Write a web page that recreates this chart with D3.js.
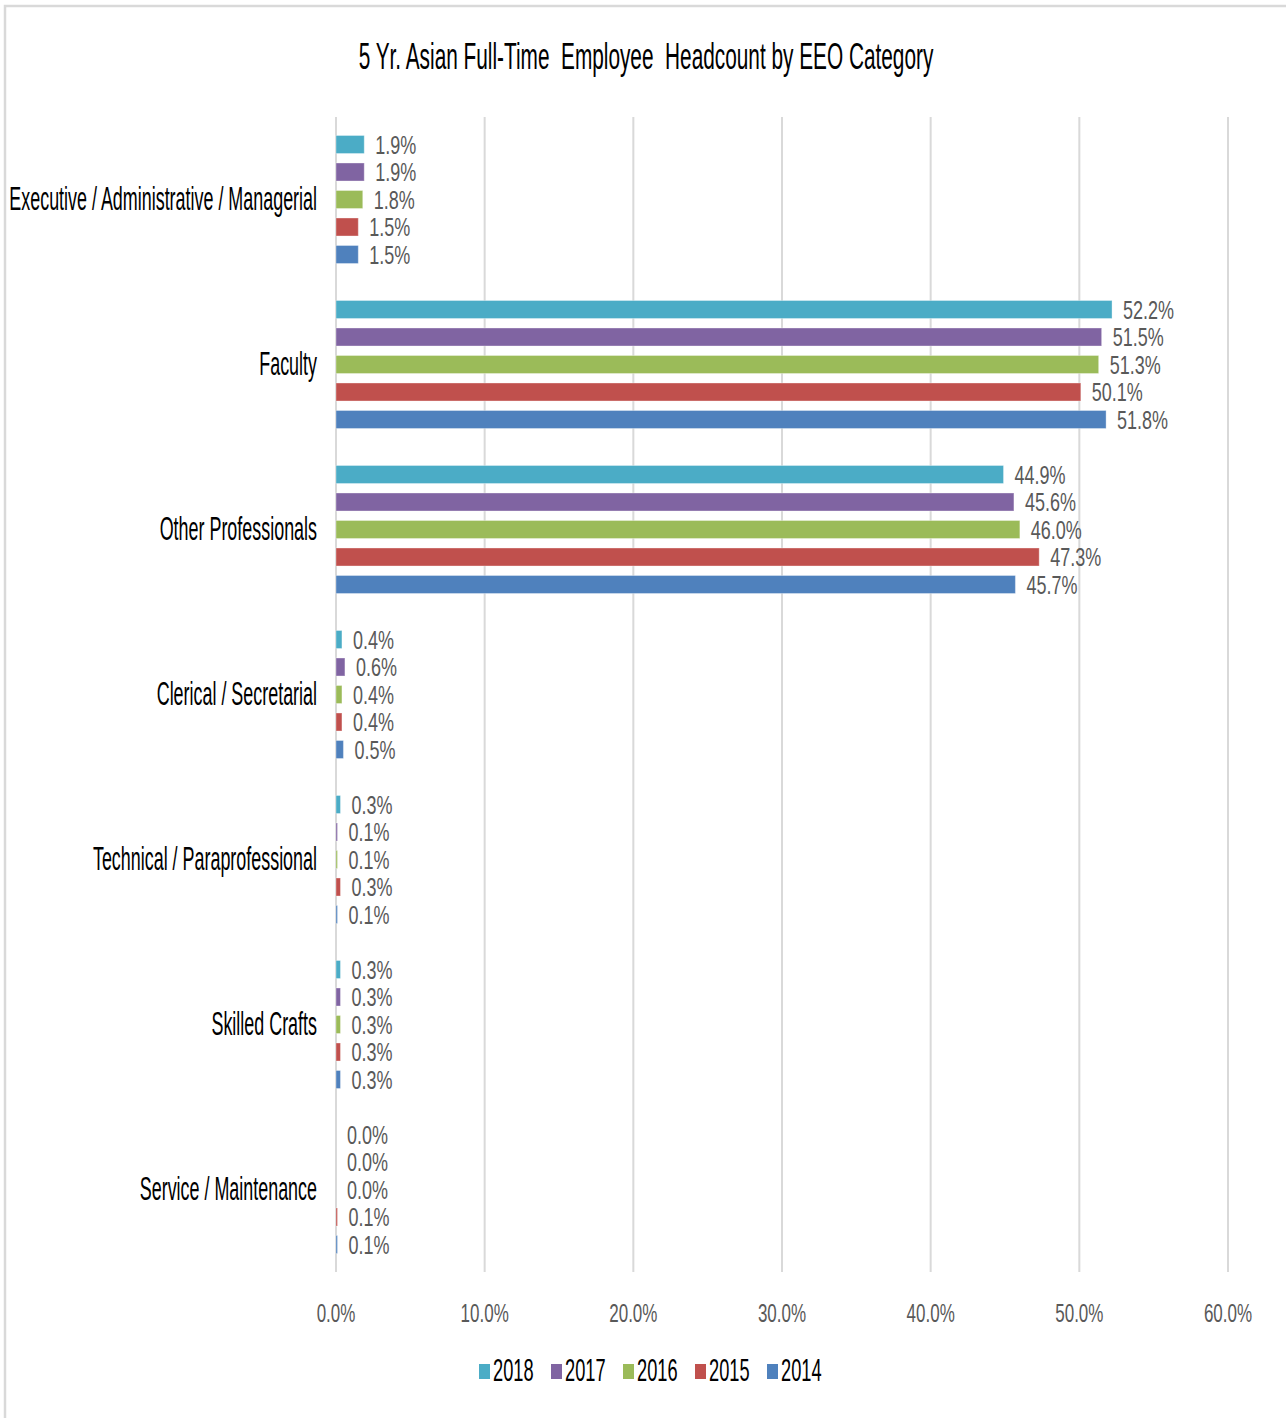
<!DOCTYPE html>
<html>
<head>
<meta charset="utf-8">
<script src="https://cdn.jsdelivr.net/npm/d3@7"></script>
<style>
  html, body { margin: 0; padding: 0; background: #ffffff; }
  svg { display: block; }
  text { font-family: "Liberation Sans", Arial, sans-serif; }
</style>
</head>
<body>
<svg id="chart" width="1286" height="1418"></svg>
<script>
// EEO categories, top to bottom
const categories = [
  "Executive / Administrative / Managerial",
  "Faculty",
  "Other Professionals",
  "Clerical / Secretarial",
  "Technical / Paraprofessional",
  "Skilled Crafts",
  "Service / Maintenance"
];

// Share of Asian full-time headcount (%) per year, in category order
const years = ["2018", "2017", "2016", "2015", "2014"];
const values2018 = [1.9, 52.2, 44.9, 0.4, 0.3, 0.3, 0.0];
const values2017 = [1.9, 51.5, 45.6, 0.6, 0.1, 0.3, 0.0];
const values2016 = [1.8, 51.3, 46.0, 0.4, 0.1, 0.3, 0.0];
const values2015 = [1.5, 50.1, 47.3, 0.4, 0.3, 0.3, 0.1];
const values2014 = [1.5, 51.8, 45.7, 0.5, 0.1, 0.3, 0.1];
const seriesValues = [values2018, values2017, values2016, values2015, values2014];
const colors = ["#4BACC6", "#8064A2", "#9BBB59", "#C0504D", "#4F81BD"];

const xTicks = [0, 10, 20, 30, 40, 50, 60];
const title = "5 Yr. Asian Full-Time  Employee  Headcount by EEO Category";

const svg = d3.select("#chart");

// outer frame
svg.append("rect")
  .attr("x", 5).attr("y", 6)
  .attr("width", 1300).attr("height", 1430)
  .attr("fill", "none")
  .attr("stroke", "#d9d9d9")
  .attr("stroke-width", 2.5);

const plot = { left: 336, right: 1228, top: 117, bottom: 1272 };

const x = d3.scaleLinear().domain([0, 60]).range([plot.left, plot.right]);
const y0 = d3.scaleBand().domain(categories).range([plot.top, plot.bottom]);
const y1 = d3.scaleBand().domain(years)
  .range([0, y0.bandwidth()])
  .paddingInner(0.345)
  .paddingOuter(0.6725);

// condensed text helper: horizontally squeezed glyphs
function squeezed(sel, px, py, sx) {
  return sel.attr("transform", `translate(${px},${py}) scale(${sx},1)`);
}

// gridlines
svg.append("g").selectAll("line")
  .data(xTicks)
  .join("line")
  .attr("x1", d => x(d)).attr("x2", d => x(d))
  .attr("y1", plot.top).attr("y2", plot.bottom)
  .attr("stroke", "#d9d9d9")
  .attr("stroke-width", 2);

// bars and value labels
const groups = svg.append("g").selectAll("g")
  .data(categories)
  .join("g")
  .attr("transform", d => `translate(0,${y0(d)})`);

groups.each(function(cat, ci) {
  const g = d3.select(this);
  years.forEach((yr, si) => {
    const v = seriesValues[si][ci];
    const yy = y1(yr);
    g.append("rect")
      .attr("x", x(0))
      .attr("y", yy)
      .attr("width", Math.max(0, x(v) - x(0)))
      .attr("height", y1.bandwidth())
      .attr("fill", colors[si])
      .attr("stroke", v > 0 ? "rgba(255,255,255,0.35)" : "none")
      .attr("stroke-width", 1);
    g.append("text")
      .call(squeezed, x(v) + 11, yy + y1.bandwidth() / 2 + 9, 0.72)
      .attr("font-size", 25)
      .attr("fill", "#595959")
      .text(v.toFixed(1) + "%");
  });
});

// category labels
svg.append("g").selectAll("text")
  .data(categories)
  .join("text")
  .each(function(d) {
    d3.select(this).call(squeezed, 317, y0(d) + y0.bandwidth() / 2 + 10, 0.543);
  })
  .attr("text-anchor", "end")
  .attr("font-size", 33)
  .attr("fill", "#000000")
  .text(d => d);

// x-axis tick labels
svg.append("g").selectAll("text")
  .data(xTicks)
  .join("text")
  .each(function(d) {
    d3.select(this).call(squeezed, x(d), 1322, 0.68);
  })
  .attr("text-anchor", "middle")
  .attr("font-size", 25)
  .attr("fill", "#595959")
  .text(d => d3.format(".1f")(d) + "%");

// title
svg.append("text")
  .call(squeezed, 646, 69, 0.578)
  .attr("text-anchor", "middle")
  .attr("font-size", 36)
  .attr("fill", "#000000")
  .style("white-space", "pre")
  .attr("xml:space", "preserve")
  .text(title);

// legend
const legend = svg.append("g").selectAll("g")
  .data(years)
  .join("g")
  .attr("transform", (d, i) => `translate(${479 + i * 72},1364)`);
legend.append("rect")
  .attr("width", 11).attr("height", 15)
  .attr("fill", (d, i) => colors[i]);
legend.append("text")
  .call(squeezed, 14, 17, 0.57)
  .attr("font-size", 32)
  .attr("fill", "#000000")
  .text(d => d);
</script>
</body>
</html>
